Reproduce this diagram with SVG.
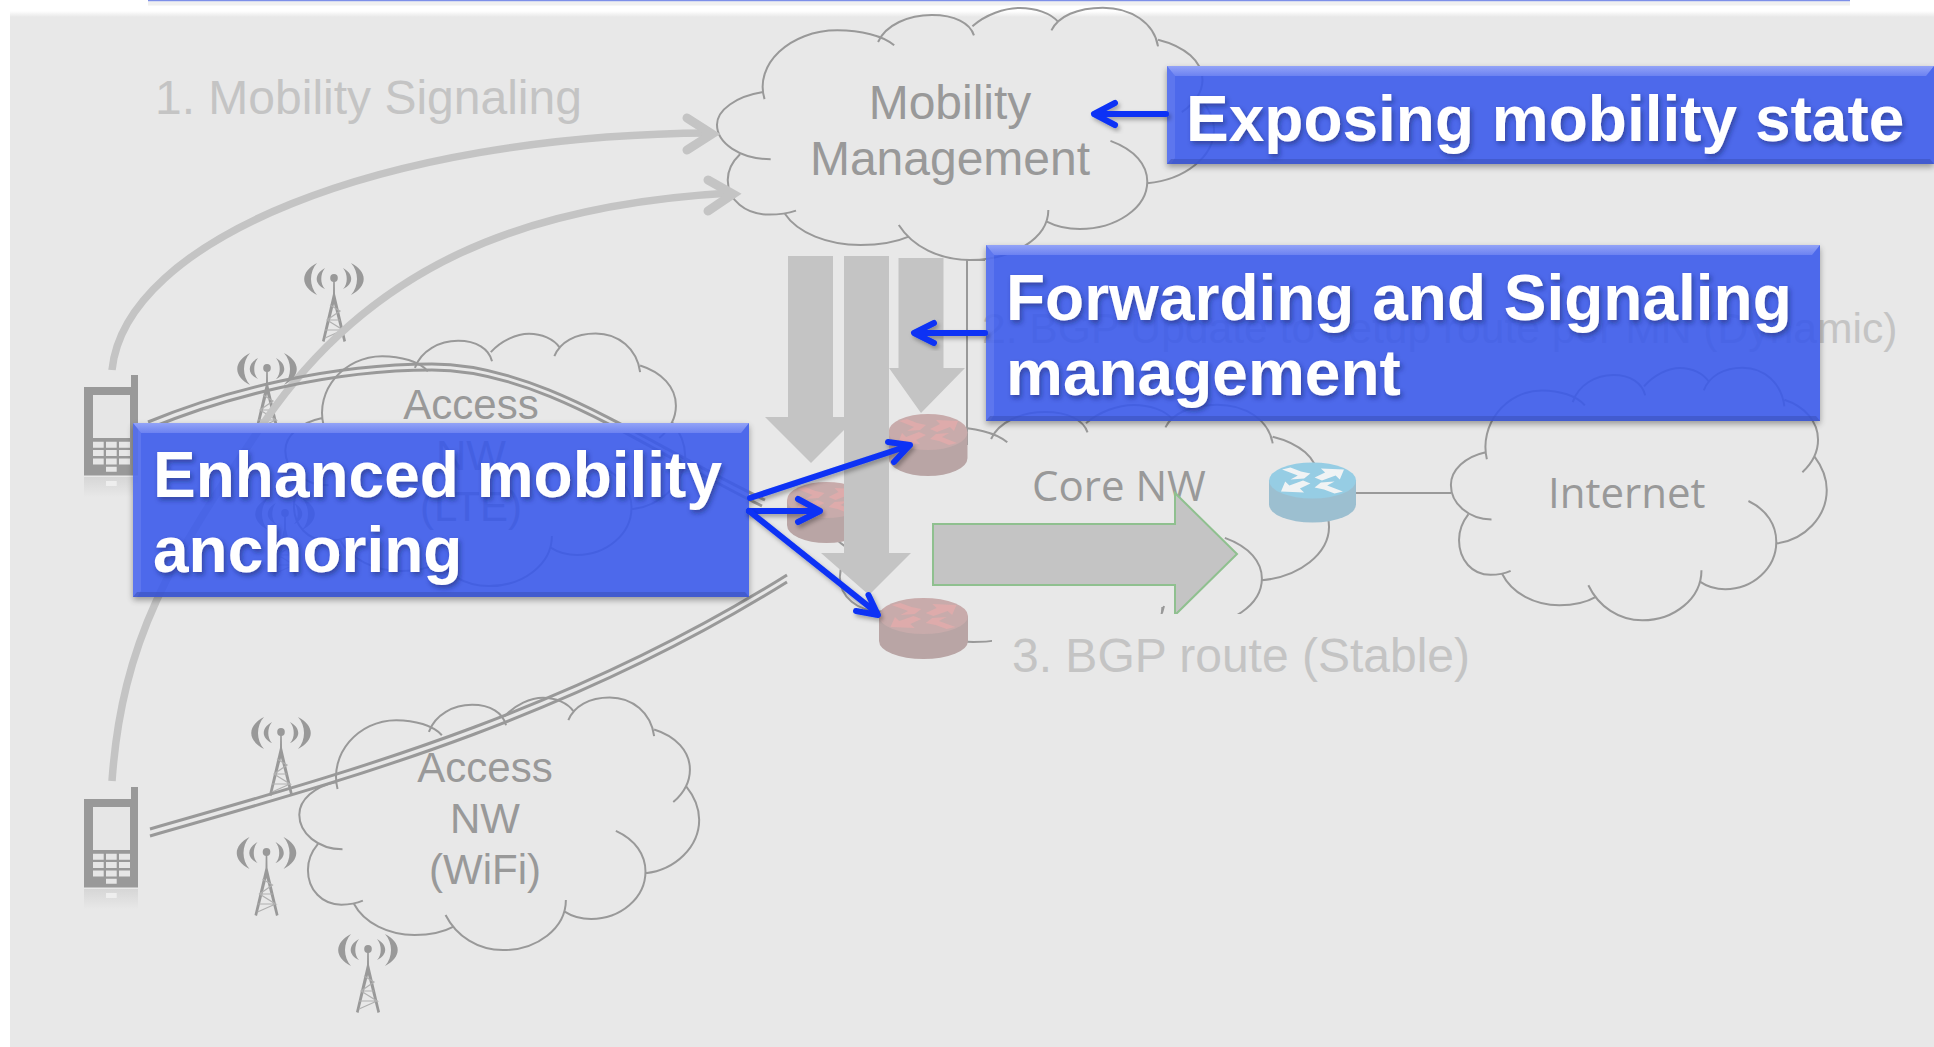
<svg xmlns="http://www.w3.org/2000/svg" width="1934" height="1047" viewBox="0 0 1934 1047">
<style>
.cl{fill:none;stroke:#999;stroke-width:2;vector-effect:non-scaling-stroke}
.gt{font-family:"Liberation Sans",Arial,sans-serif;font-size:48px;fill:#c4c4c4}
.gs{font-size:42.600px}
.ct{font-family:"Liberation Sans",Arial,sans-serif;font-size:48px;fill:#999;text-anchor:middle}
.at{font-size:42px}
.ot{font-family:"Open Sans","Noto Sans",sans-serif;font-size:42px;fill:#999}
.wt{font-family:"Liberation Sans",Arial,sans-serif;font-weight:bold;font-size:64px;fill:#fff;filter:url(#ts)}
.sig{fill:none;stroke:#c4c4c4;stroke-width:7.500}
.tun{fill:none;stroke:#999;stroke-width:3}
.ga{fill:#c4c4c4}
.ba{fill:none;stroke:#0a32f5;stroke-width:6;stroke-linecap:round;stroke-linejoin:round;filter:url(#as)}
.box{fill:#3858ec;fill-opacity:.88}
.top{fill:url(#bt)}
.bot{fill:#3a50b8;fill-opacity:.55}
.side{fill:#8fa0f6;fill-opacity:.25}
.rb{fill:#b9a5a5}.rt{fill:#c8abab}
.bb{fill:#9cbfd0}.bt{fill:#96cde4}
.ph{fill:#999}.phl{fill:#e6e6e6}
.tl{fill:none;stroke:#b0b0b0;stroke-width:1.200}
</style>
<defs>
<linearGradient id="bt" x1="0" y1="0" x2="0" y2="1"><stop offset="0" stop-color="#93a3f7"/><stop offset="1" stop-color="#6c82f1"/></linearGradient>
<linearGradient id="fd" x1="0" y1="0" x2="0" y2="1"><stop offset="0" stop-color="#fff"/><stop offset="1" stop-color="#e8e8e8"/></linearGradient>
<linearGradient id="rf" x1="0" y1="0" x2="0" y2="1"><stop offset="0" stop-color="#d6d6d6"/><stop offset="1" stop-color="#e8e8e8"/></linearGradient>
<filter id="ts" x="-5%" y="-20%" width="110%" height="140%"><feDropShadow dx="2" dy="3" stdDeviation="2.500" flood-color="#10205a" flood-opacity=".5"/></filter>
<filter id="as" x="-20%" y="-40%" width="140%" height="180%"><feDropShadow dx="2" dy="3" stdDeviation="2" flood-color="#000" flood-opacity=".3"/></filter>
<filter id="bs" x="-5%" y="-10%" width="110%" height="125%">
<feGaussianBlur in="SourceAlpha" stdDeviation="3"/><feOffset dy="3"/><feComponentTransfer><feFuncA type="linear" slope=".4"/></feComponentTransfer><feComposite operator="out" in2="SourceAlpha" result="sh"/>
<feMerge><feMergeNode in="sh"/><feMergeNode in="SourceGraphic"/></feMerge>
</filter>
<path id="cloud" class="cl" d="M547 793C533 690 580 587 642 587C672 587 702 603 716 632M695 622C705 570 735 541 765 541C795 541 815 565 820 602M818 575C835 540 860 520 880 520C900 520 920 535 930 562M921 587C930 545 955 519 988 519C1025 519 1055 565 1060 635M1060 615C1095 635 1118 680 1118 735C1118 770 1108 805 1091 832M1112 785C1125 815 1133 850 1133 885C1133 965 1095 1035 1046 1045M998 918C1030 945 1046 990 1046 1040C1046 1120 1005 1182 958 1182C940 1182 925 1172 915 1160M917 1125C917 1210 870 1275 815 1275C775 1275 740 1235 722 1170M735 1205C718 1222 695 1230 672 1230C630 1230 590 1195 573 1135M588 1127C578 1135 565 1139 553 1139C522 1139 499 1095 499 1035C499 1005 505 980 515 958M555 973C515 973 485 925 485 870C485 825 510 785 545 772"/>
<g id="tower">
<ellipse rx="3.800" ry="4" fill="#999"/>
<path fill="#999" d="M-17 -15C-34 -6 -34 8 -17 17C-25 8 -25 -6 -17 -15ZM-9 -10C-20 -4 -20 6 -9 11C-14 6 -14 -4 -9 -10ZM17 -15C34 -6 34 8 17 17C25 8 25 -6 17 -15ZM9 -10C20 -4 20 6 9 11C14 6 14 -4 9 -10Z"/>
<path fill="#999" d="M-.8 3H.8L1 16L12 63L9.500 64L0 26L-9.500 64L-12 63L-1 16Z"/>
<path class="tl" d="M-9 52H9L-7 42L6 33L-4 27M-6 42H6M-9 60L9 52"/>
</g>
<g id="phone">
<path class="ph" d="M84 387H131V375H138V475.500H84Z"/>
<rect class="phl" x="93" y="395" width="37" height="43"/>
<path class="phl" d="M93 441.700h10.700v6h-10.700zM106 441.700h10.700v6h-10.700zM119 441.700h11v6h-11zM93 450h10.700v6h-10.700zM106 450h10.700v6h-10.700zM119 450h11v6h-11zM93 458.500h10.700v6h-10.700zM106 458.500h10.700v6h-10.700zM119 458.500h11v6h-11zM106 466.700h10.700v5h-10.700z"/>
<rect x="84" y="477" width="54" height="20" fill="url(#rf)"/>
<rect x="106" y="481" width="10.700" height="5" fill="#eee"/>
</g>
<path id="rarr" d="M-29 -11L-21 -13L-11 -9L-2 -7L-8 -2L-21 -1L-14 -5ZM2 -3L12 -8L8 -12L30 -11L26 -1L22 -5L9 0ZM-2 3L-12 8L-8 12L-30 11L-26 1L-22 5L-9 0ZM29 11L21 13L11 9L2 7L8 2L21 1L14 5Z"/>
</defs>
<rect id="page" width="1934" height="1047" fill="#fff"/>
<rect id="bg" x="10" y="12" width="1924" height="1035" fill="#e8e8e8"/>
<rect x="10" y="11" width="1924" height="6" fill="url(#fd)"/>
<rect x="148" y="0" width="1702" height="1.500" fill="#7d8fe8"/>
<rect x="148" y="1.500" width="1702" height="4" fill="#f0f0f0"/>

<g id="cloud-mobility"><use href="#cloud" transform="matrix(.767 0 0 .3338 345 -165.600)"/><text class="ct" x="950" y="119">Mobility</text><text class="ct" x="950" y="175">Management</text></g>
<g id="cloud-core"><use href="#cloud" transform="matrix(.7716 0 0 .3338 454.800 231.400)"/><text class="ot" x="1032" y="501">Core NW</text></g>
<g id="cloud-internet"><use href="#cloud" transform="matrix(.58 0 0 .3342 1169.600 194.200)"/><text class="ot" x="1548" y="508">Internet</text></g>
<g id="cloud-lte"><use href="#cloud" transform="matrix(.6171 0 0 .3342 -14 160)"/><text class="ct at" x="471" y="419">Access</text><text class="ct at" x="471" y="470">NW</text><text class="ct at" x="471" y="521">(LTE)</text></g>
<g id="cloud-wifi"><use href="#cloud" transform="matrix(.6171 0 0 .3342 0 524)"/><text class="ct at" x="485" y="782">Access</text><text class="ct at" x="485" y="833">NW</text><text class="ct at" x="485" y="884">(WiFi)</text></g>

<g id="towers">
<use href="#tower" transform="translate(334 278)"/>
<use href="#tower" transform="translate(267 368)"/>
<use href="#tower" transform="translate(285 513)"/>
<use href="#tower" transform="translate(281 732)"/>
<use href="#tower" transform="translate(266.500 852)"/>
<use href="#tower" transform="translate(368 949)"/>
</g>
<g id="phone-1"><use href="#phone"/></g>
<g id="phone-2"><use href="#phone" transform="translate(0 412)"/></g>

<text id="label-1" class="gt" x="155" y="114">1. Mobility Signaling</text>
<text id="label-2" class="gt gs" x="982" y="343">2. BGP Update to setup route per MN (Dynamic)</text>

<g id="connectors">
<path class="sig" d="M112 370C125 240 380 135 710 133"/>
<path class="sig" stroke-linecap="round" d="M687 118L712 134L687 150" style="stroke-width:9"/>
<path class="sig" d="M112 781C122 640 170 560 265 421C370 268 520 205 730 193"/>
<path class="sig" stroke-linecap="round" d="M708 180L733 194L708 211" style="stroke-width:9"/>
<path class="tun" d="M148 422C225 390 330 364 432 364C540 364 640 440 765 500"/>
<path class="tun" d="M148 429C225 397 330 370 432 370C540 370 640 446 762 506"/>
<path class="tun" d="M150 829C330 777 560 717 787 575"/>
<path class="tun" d="M150 836C330 784 560 724 787 582"/>
<path fill="none" stroke="#999" stroke-width="2" d="M985 260H967V445"/>
<path fill="none" stroke="#999" stroke-width="2" d="M1356 493H1451"/>
</g>

<g id="flow-arrows">
<path class="ga" d="M788 256H833V417H857L811 463L765 417H788Z"/>
<path class="ga" d="M898.500 258H943.500V368H965L921 413L889 368H898.500Z"/>
</g>
<g id="router-1" transform="translate(928 432)">
<path class="rb" d="M-39.500 0V26A39.500 18 0 0 0 39.500 26V0Z"/><ellipse class="rt" rx="39.500" ry="18"/><use href="#rarr" fill="#deabab"/>
</g>
<g id="router-2" transform="translate(826.500 500)">
<path class="rb" d="M-39.500 0V25A39.500 18 0 0 0 39.500 25V0Z"/><ellipse class="rt" rx="39.500" ry="18"/><use href="#rarr" fill="#deabab"/>
</g>
<g id="router-3" transform="translate(923.500 616)">
<path class="rb" d="M-44.500 0V25A44.500 18 0 0 0 44.500 25V0Z"/><ellipse class="rt" rx="44.500" ry="18"/><use href="#rarr" fill="#deabab" transform="scale(1.100 1)"/>
</g>
<g id="router-blue" transform="translate(1312.500 480.500)">
<path class="bb" d="M-43.500 0V24A43.500 18 0 0 0 43.500 24V0Z"/><ellipse class="bt" rx="43.500" ry="18"/><use href="#rarr" fill="#f0f3f4" transform="scale(1.050 1)"/>
</g>
<path id="arrow-down-b" class="ga" d="M844 256H889V553H911L869 595L821 553H844Z"/>
<path id="arrow-green" fill="#c4c4c4" stroke="#8fc08f" stroke-width="2" d="M933 524H1175V493L1237 554L1175 615V585H933Z"/>
<rect id="mask" x="992" y="614" width="350" height="66" fill="#e8e8e8"/>
<path fill="none" stroke="#999" stroke-width="2" d="M1164 606L1162 613"/>
<text id="label-3" class="gt" x="1012" y="672">3. BGP route (Stable)</text>

<g id="box-exposing">
<rect class="box" x="1167" y="66" width="767" height="98" filter="url(#bs)"/>
<path class="top" d="M1167 66H1934L1926 76H1175Z"/><path class="side" d="M1167 66L1175 76V158L1171 164H1167Z"/><path class="bot" d="M1167 164H1934L1930 159H1171Z"/>
<text class="wt" x="1186" y="141">Exposing mobility state</text>
</g>
<g id="box-forwarding">
<rect class="box" x="986" y="245" width="834" height="176" filter="url(#bs)"/>
<path class="top" d="M986 245H1820L1812 255H994Z"/><path class="side" d="M986 245L994 255V415L990 421H986Z"/><path class="bot" d="M986 421H1820L1816 416H990Z"/>
<text class="wt" x="1006" y="320">Forwarding and Signaling</text>
<text class="wt" x="1006" y="395">management</text>
</g>
<g id="box-enhanced">
<rect class="box" x="133" y="423" width="616" height="174" filter="url(#bs)"/>
<path class="top" d="M133 423H749L741 433H141Z"/><path class="side" d="M133 423L141 433V591L137 597H133Z"/><path class="bot" d="M133 597H749L745 592H137Z"/>
<text class="wt" x="153" y="497">Enhanced mobility</text>
<text class="wt" x="153" y="572">anchoring</text>
</g>

<g id="callout-arrows">
<path class="ba" d="M1166 114H1095M1115 103L1094 114L1115 125"/>
<path class="ba" d="M985 333H915M934 323L914 333L934 343"/>
<path class="ba" d="M750 498L908 446M888 442L910 445L894 462"/>
<path class="ba" d="M749 511H818M798 499L820 511L798 522"/>
<path class="ba" d="M749 511L877 613M868.500 595L878 615L856 611"/>
</g>
</svg>
